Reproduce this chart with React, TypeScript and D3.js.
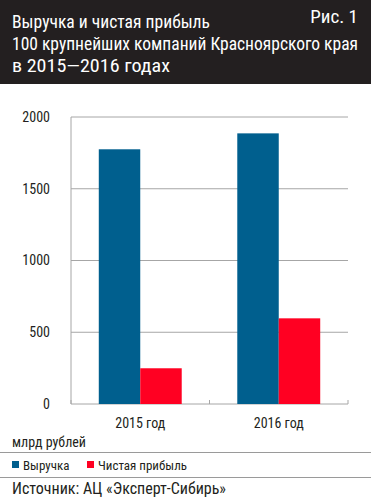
import React, { useEffect, useRef } from 'react'
import * as d3 from 'd3'

const titleLines = ['Выручка и чистая прибыль', '100 крупнейших компаний Красноярского края', 'в 2015—2016 годах']
const figLabel = 'Рис. 1'
const categories = ['2015 год', '2016 год']
const seriesNames = ['Выручка', 'Чистая прибыль']
const revenue = [1775, 1886]
const profit = [249, 597]
const yTicks = [0, 500, 1000, 1500, 2000]
const unitLabel = 'млрд рублей'
const sourceLabel = 'Источник: АЦ «Эксперт-Сибирь»'

const colors = ['#005f8e', '#ff0022']
const W = 371
const H = 500
const FONT = '"Liberation Sans Narrow", "Roboto Condensed", Roboto, sans-serif'
// widths the title lines take in the reference
const titleWidths = [198, 346, 158]

export default function App() {
  const ref = useRef<SVGSVGElement>(null)

  useEffect(() => {
    document.body.style.margin = '0'
    const svg = d3.select(ref.current)
    svg.selectAll('*').remove()

    // dark header
    svg.append('rect').attr('width', W).attr('height', 84).attr('fill', '#231f20')
    svg.append('g')
      .selectAll('text')
      .data(titleLines)
      .enter()
      .append('text')
      .attr('x', 12)
      .attr('y', (d, i) => 28 + i * 22)
      .attr('fill', '#fff')
      .attr('textLength', (d, i) => titleWidths[i])
      .attr('lengthAdjust', 'spacingAndGlyphs')
      .style('font-family', FONT)
      .style('font-size', '18px')
      .text(d => d)
    svg.append('text')
      .attr('x', 358).attr('y', 23)
      .attr('text-anchor', 'end')
      .attr('fill', '#fff')
      .style('font-family', FONT)
      .style('font-size', '19px')
      .text(figLabel)

    const margin = { top: 117, left: 71, right: 23, bottom: 96 }
    const width = W - margin.left - margin.right
    const height = H - margin.top - margin.bottom

    const g = svg.append('g').attr('transform', `translate(${margin.left}, ${margin.top})`)

    const y = d3.scaleLinear().domain([0, 2000]).range([height, 0])
    const x0 = d3.scaleBand().domain(categories).range([0, width]).padding(0)
    const x1 = d3.scaleBand().domain(seriesNames).range([0, x0.bandwidth()]).paddingInner(0).paddingOuter(0.67)

    // gridlines
    g.append('g')
      .selectAll('line')
      .data(yTicks)
      .enter()
      .append('line')
      .attr('x1', 0).attr('x2', width)
      .attr('y1', d => y(d)).attr('y2', d => y(d))
      .attr('stroke', '#a6a6a6').attr('stroke-width', 1)

    // y axis line
    g.append('line').attr('x1', 0).attr('x2', 0).attr('y1', 0).attr('y2', height)
      .attr('stroke', '#a6a6a6')

    // category separator ticks
    g.append('g')
      .selectAll('line')
      .data([0, 1, 2])
      .enter()
      .append('line')
      .attr('x1', d => d * x0.step()).attr('x2', d => d * x0.step())
      .attr('y1', height - 4).attr('y2', height)
      .attr('stroke', '#a6a6a6')

    // y tick labels
    g.append('g')
      .selectAll('text')
      .data(yTicks)
      .enter()
      .append('text')
      .attr('x', -21)
      .attr('y', d => y(d))
      .attr('dy', '0.35em')
      .attr('text-anchor', 'end')
      .attr('fill', '#231f20')
      .style('font-family', FONT)
      .style('font-size', '14px')
      .text(d => d)

    const table = categories.map((c, i) => ({ cat: c, vals: [revenue[i], profit[i]] }))

    const groups = g.selectAll('.grp')
      .data(table)
      .enter()
      .append('g')
      .attr('class', 'grp')
      .attr('transform', d => `translate(${x0(d.cat)}, 0)`)

    groups.selectAll('rect')
      .data(d => d.vals.map((v, i) => ({ name: seriesNames[i], v, i })))
      .enter()
      .append('rect')
      .attr('x', d => x1(d.name)!)
      .attr('width', x1.bandwidth())
      .attr('y', d => y(d.v))
      .attr('height', d => height - y(d.v))
      .attr('fill', d => colors[d.i])

    // x labels
    g.append('g')
      .selectAll('text')
      .data(categories)
      .enter()
      .append('text')
      .attr('x', d => x0(d)! + x0.bandwidth() / 2)
      .attr('y', height + 24)
      .attr('text-anchor', 'middle')
      .attr('fill', '#231f20')
      .style('font-family', FONT)
      .style('font-size', '14px')
      .text(d => d)

    svg.append('text')
      .attr('x', 12).attr('y', 447)
      .attr('fill', '#231f20')
      .style('font-family', FONT)
      .style('font-size', '14px')
      .text(unitLabel)

    svg.append('line').attr('x1', 0).attr('x2', W).attr('y1', 452.5).attr('y2', 452.5)
      .attr('stroke', '#9a9a9a')
    svg.append('line').attr('x1', 0).attr('x2', W).attr('y1', 477.5).attr('y2', 477.5)
      .attr('stroke', '#9a9a9a')

    // legend
    const legendX = [12, 87]
    const leg = svg.append('g')
      .selectAll('g')
      .data(seriesNames)
      .enter()
      .append('g')
      .attr('transform', (d, i) => `translate(${legendX[i]}, 461)`)
    leg.append('rect').attr('width', 7).attr('height', 7).attr('fill', (d, i) => colors[i])
    leg.append('text')
      .attr('x', 11).attr('y', 8.5)
      .attr('fill', '#231f20')
      .style('font-family', FONT)
      .style('font-size', '13px')
      .text(d => d)

    svg.append('text')
      .attr('x', 12).attr('y', 494)
      .attr('fill', '#231f20')
      .style('font-family', FONT)
      .style('font-size', '16px')
      .text(sourceLabel)
  }, [])

  return <svg ref={ref} width={W} height={H} style={{ display: 'block', background: '#fff' }} />
}
